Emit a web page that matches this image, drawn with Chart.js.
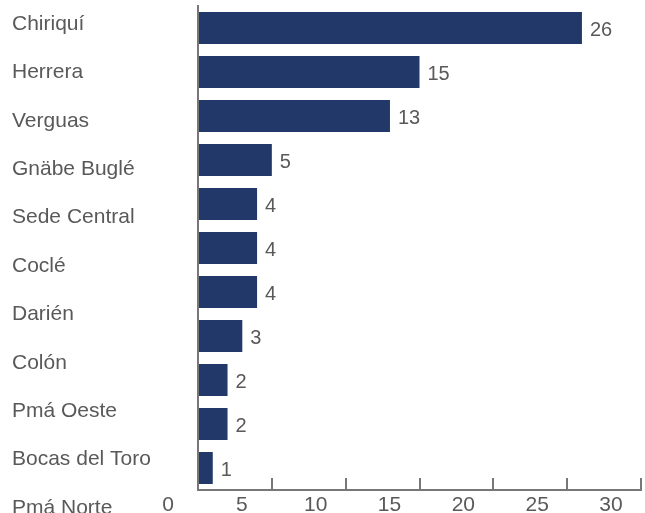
<!DOCTYPE html>
<html>
<head>
<meta charset="utf-8">
<script src="https://cdn.jsdelivr.net/npm/chart.js@4/dist/chart.umd.min.js"></script>
<style>
  html, body { margin: 0; padding: 0; background: #fff; }
  #wrap { width: 645px; height: 513px; position: relative; }
</style>
</head>
<body>
<div id="wrap"><canvas id="regionChart"></canvas></div>
<script>
const categories = ['Chiriquí', 'Herrera', 'Verguas', 'Gnäbe Buglé', 'Sede Central', 'Coclé', 'Darién', 'Colón', 'Pmá Oeste', 'Bocas del Toro', 'Pmá Norte'];
const values = [26, 15, 13, 5, 4, 4, 4, 3, 2, 2, 1];
const xTicks = [0, 5, 10, 15, 20, 25, 30];

const textColor = '#595959';
const axisColor = '#777777';
const barColor = '#213868';
const fontFamily = "'Liberation Sans', Arial, sans-serif";

// value labels at the end of each bar
const valueLabels = {
    id: 'valueLabels',
    afterDatasetsDraw(chart) {
        const ctx = chart.ctx;
        const meta = chart.getDatasetMeta(0);
        ctx.save();
        ctx.font = '20px ' + fontFamily;
        ctx.fillStyle = textColor;
        ctx.textAlign = 'left';
        ctx.textBaseline = 'middle';
        meta.data.forEach(function(bar, i) {
            ctx.fillText(String(values[i]), bar.x + 8, bar.y + 2);
        });
        ctx.restore();
    }
};

const ctx = document.getElementById('regionChart');
new Chart(ctx, {
    type: 'bar',
    data: {
        labels: categories,
        datasets: [{
            data: values,
            backgroundColor: barColor,
            categoryPercentage: 1,
            barPercentage: 0.727,
            xAxisID: 'x',
            yAxisID: 'y'
        }]
    },
    options: {
        indexAxis: 'y',
        responsive: true,
        maintainAspectRatio: false,
        animation: false,
        layout: { padding: { left: 12, right: 4, top: 6, bottom: 0 } },
        plugins: {
            legend: { display: false },
            tooltip: { enabled: false }
        },
        scales: {
            x: {
                type: 'linear',
                position: 'bottom',
                min: 0,
                max: 30,
                afterBuildTicks: function(scale) {
                    scale.ticks = xTicks.map(function(v) { return { value: v }; });
                },
                afterFit: function(scale) {
                    scale.height = 23;
                    scale.paddingLeft = 0;
                    scale.paddingRight = 0;
                },
                ticks: {
                    color: textColor,
                    font: { family: fontFamily, size: 21 },
                    labelOffset: -30,
                    padding: 15,
                    maxRotation: 0
                },
                grid: {
                    drawOnChartArea: false,
                    tickLength: -12,
                    color: axisColor,
                    lineWidth: 2
                },
                border: { color: axisColor, width: 2 }
            },
            y: {
                type: 'category',
                display: false,
                offset: true
            },
            yl: {
                type: 'category',
                position: 'left',
                labels: categories,
                offset: false,
                afterFit: function(scale) {
                    scale.width = 186;
                    scale.paddingTop = 0;
                    scale.paddingBottom = 0;
                },
                ticks: {
                    autoSkip: false,
                    crossAlign: 'far',
                    labelOffset: 18,
                    color: textColor,
                    font: { family: fontFamily, size: 21 }
                },
                grid: { display: false },
                border: { display: true, color: axisColor, width: 2 }
            }
        }
    },
    plugins: [valueLabels]
});
</script>
</body>
</html>
